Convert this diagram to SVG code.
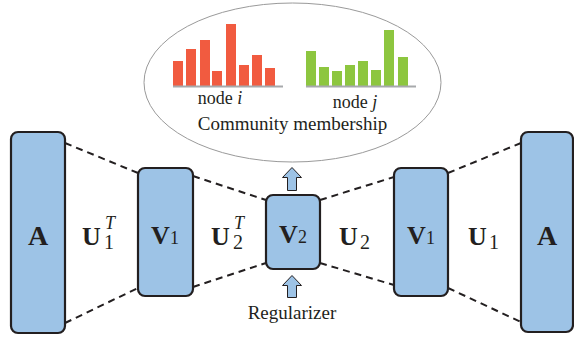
<svg xmlns="http://www.w3.org/2000/svg" width="574" height="339" viewBox="0 0 574 339">
<defs>
<style>
.box{fill:#9DC3E6;stroke:#231F20;stroke-width:2.2}
.dash{stroke:#231F20;stroke-width:2;stroke-dasharray:7 5;fill:none}
.arr{fill:#9DC3E6;stroke:#231F20;stroke-width:1}
.red{fill:#F15B40}
.grn{fill:#8DC63F}
.base{stroke:#A7A9AC;stroke-width:2}
.t{font-family:"Liberation Serif","Times New Roman",serif;fill:#231F20}
.b{font-weight:bold}
.it{font-style:italic}
</style>
</defs>
<g id="community">
<ellipse cx="292.5" cy="82.5" rx="148.5" ry="79.5" fill="none" stroke="#9A9A9A" stroke-width="1"/>
<g id="bars-i">
<rect class="red" x="173" y="61" width="10" height="25"/>
<rect class="red" x="186" y="49" width="10" height="37"/>
<rect class="red" x="200" y="40" width="10" height="46"/>
<rect class="red" x="212" y="71" width="10" height="15"/>
<rect class="red" x="226" y="24" width="10" height="62"/>
<rect class="red" x="239" y="65" width="10" height="21"/>
<rect class="red" x="252" y="55" width="10" height="31"/>
<rect class="red" x="265" y="68" width="10" height="18"/>
<line class="base" x1="173" y1="86.5" x2="283" y2="86.5"/>
</g>
<g id="bars-j">
<rect class="grn" x="306" y="51" width="10" height="35"/>
<rect class="grn" x="319" y="67" width="10" height="19"/>
<rect class="grn" x="332" y="71" width="10" height="15"/>
<rect class="grn" x="345" y="65" width="10" height="21"/>
<rect class="grn" x="358" y="61" width="10" height="25"/>
<rect class="grn" x="371" y="70" width="10" height="16"/>
<rect class="grn" x="384" y="30" width="10" height="56"/>
<rect class="grn" x="398" y="57" width="10" height="29"/>
<line class="base" x1="306" y1="86.5" x2="416" y2="86.5"/>
</g>
<text class="t" x="220" y="104" font-size="18" text-anchor="middle">node <tspan class="it">i</tspan></text>
<text class="t" x="355" y="108" font-size="18" text-anchor="middle">node <tspan class="it">j</tspan></text>
<text class="t" x="292.5" y="130" font-size="19" text-anchor="middle">Community membership</text>
</g>
<g id="connectors">
<line class="dash" x1="65" y1="143" x2="138" y2="173"/>
<line class="dash" x1="65" y1="323" x2="138" y2="288"/>
<line class="dash" x1="193" y1="176" x2="266" y2="200"/>
<line class="dash" x1="193" y1="287" x2="266" y2="263"/>
<line class="dash" x1="320" y1="200" x2="394" y2="177"/>
<line class="dash" x1="320" y1="263" x2="394" y2="285"/>
<line class="dash" x1="448" y1="173" x2="521" y2="143"/>
<line class="dash" x1="448" y1="288" x2="521" y2="322"/>
<polygon class="arr" points="292,167.5 301.5,177.5 296.5,177.5 296.5,190.5 287.5,190.5 287.5,177.5 282.5,177.5"/>
<polygon class="arr" points="292,275.5 301.5,285.5 296.5,285.5 296.5,297.5 287.5,297.5 287.5,285.5 282.5,285.5"/>
</g>
<g id="A-left">
<rect class="box" x="11" y="132" width="54" height="201" rx="7"/>
<text class="t b" x="38" y="245" font-size="28" text-anchor="middle">A</text>
</g>
<g id="U1T-label">
<text class="t b" x="82" y="245" font-size="26">U</text>
<text class="t" x="104" y="249" font-size="20">1</text>
<text class="t it" x="105" y="229" font-size="18">T</text>
</g>
<g id="V1-left">
<rect class="box" x="138" y="168" width="55" height="128" rx="7"/>
<text class="t" x="165" y="244" text-anchor="middle"><tspan class="b" font-size="26">V</tspan><tspan font-size="18">1</tspan></text>
</g>
<g id="U2T-label">
<text class="t b" x="211" y="245" font-size="26">U</text>
<text class="t" x="233" y="249" font-size="20">2</text>
<text class="t it" x="234" y="229" font-size="18">T</text>
</g>
<g id="V2">
<rect class="box" x="266" y="195" width="54" height="74" rx="7"/>
<text class="t" x="293" y="243" text-anchor="middle"><tspan class="b" font-size="26">V</tspan><tspan font-size="18">2</tspan></text>
</g>
<g id="U2-label">
<text class="t b" x="339" y="245" font-size="26">U</text>
<text class="t" x="360" y="249" font-size="20">2</text>
</g>
<g id="V1-right">
<rect class="box" x="394" y="168" width="54" height="128" rx="7"/>
<text class="t" x="421" y="244" text-anchor="middle"><tspan class="b" font-size="26">V</tspan><tspan font-size="18">1</tspan></text>
</g>
<g id="U1-label">
<text class="t b" x="468" y="245" font-size="26">U</text>
<text class="t" x="489" y="249" font-size="20">1</text>
</g>
<g id="A-right">
<rect class="box" x="521" y="132" width="52" height="200" rx="7"/>
<text class="t b" x="547" y="245" font-size="28" text-anchor="middle">A</text>
</g>
<g id="regularizer">
<text class="t" x="292" y="319" font-size="19" text-anchor="middle">Regularizer</text>
</g>
</svg>
